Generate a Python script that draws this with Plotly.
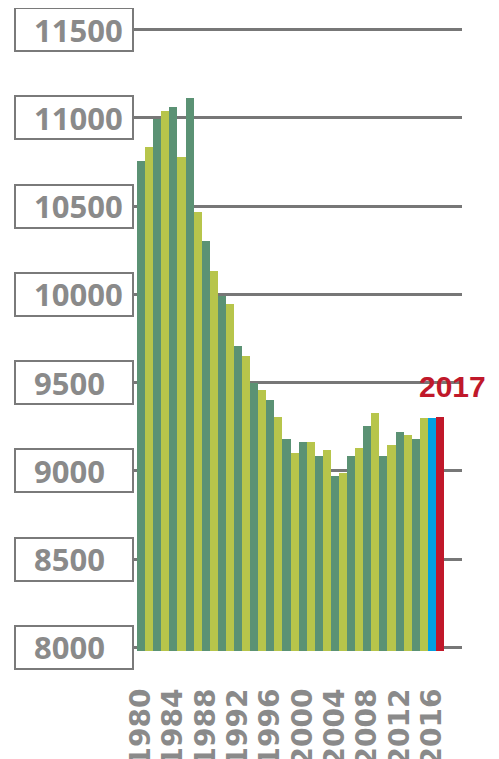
import plotly.graph_objects as go

# values, 1980-2017
years = list(range(1980, 2018))
values = [10753, 10837, 10994, 11041, 11064, 10776, 11110, 10468, 10303, 10132,
          9990, 9945, 9706, 9649, 9500, 9456, 9399, 9303, 9183, 9104,
          9166, 9161, 9087, 9121, 8973, 8990, 9087, 9127, 9252, 9326,
          9087, 9144, 9218, 9206, 9183, 9297, 9297, 9303]
ytick_vals = [8000, 8500, 9000, 9500, 10000, 10500, 11000, 11500]
xtick_vals = list(range(1980, 2017, 4))

dark = "#5b9274"
light = "#b7c54b"
colors = [dark if i % 2 == 0 else light for i in range(len(years))]
colors[-2] = "#00a0e0"
colors[-1] = "#c0182a"

grey = "#8a8a8a"

fig = go.Figure()
fig.add_trace(go.Bar(x=years, y=values, marker=dict(color=colors, line=dict(width=0)),
                     width=1, hoverinfo="x+y"))

# page body adds an 8px offset, so the figure is 8px smaller than the window
W, H = 491, 751
L, R, T, B = 125, 37, 18, 108
pw = W - L - R

annots = []
for v in ytick_vals:
    # box round each y label
    annots.append(dict(xref="paper", yref="y", x=(65.5 - L) / pw, y=v, text=" ",
                       showarrow=False, width=116, height=41, borderwidth=2,
                       borderpad=0, bordercolor="#7a7a7a", xanchor="center",
                       yanchor="middle"))
    annots.append(dict(xref="paper", yref="y", x=(24 - L) / pw, y=v, text=str(v),
                       showarrow=False, xanchor="left", yanchor="middle",
                       font=dict(family="Open Sans", size=31, color=grey, weight="bold")))

annots.append(dict(xref="x", yref="y", x=2018.5, y=9480, text="2017", showarrow=False,
                   xanchor="center", yanchor="middle",
                   font=dict(family="Liberation Sans", size=30,
                             color="#c0182a", weight="bold")))

fig.update_layout(
    width=W, height=H,
    margin=dict(l=L, r=R, t=T, b=B, autoexpand=False),
    paper_bgcolor="white", plot_bgcolor="white",
    showlegend=False, bargap=0,
    annotations=annots,
    xaxis=dict(range=[1979.0, 1979.0 + pw / 8.079], tickvals=xtick_vals,
               ticktext=[str(y) for y in xtick_vals], tickangle=-90,
               tickfont=dict(family="DejaVu Sans", size=28, color=grey, weight="bold"),
               showgrid=False, zeroline=False, showline=False, ticks="",
               ticklabelstandoff=31, automargin=False),
    yaxis=dict(range=[7980, 11520], tickvals=ytick_vals, showticklabels=False,
               showgrid=True, gridcolor="#777777", gridwidth=3, zeroline=False,
               showline=False, ticks="", automargin=False),
)

fig.write_html("out.html")
